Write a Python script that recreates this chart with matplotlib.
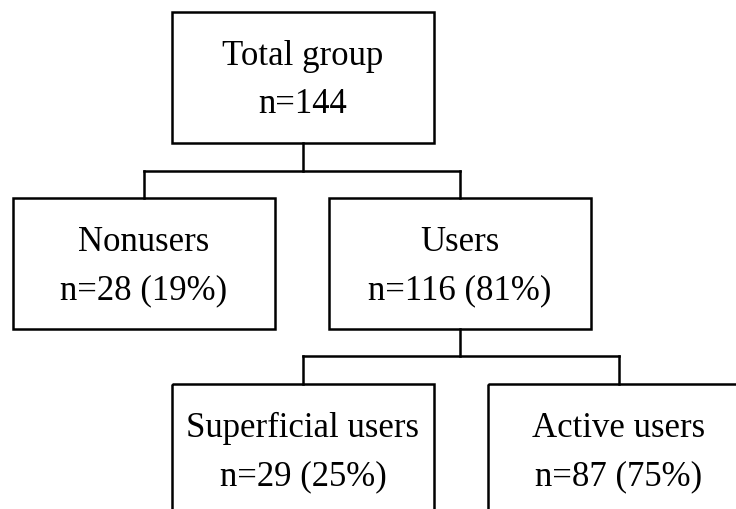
import matplotlib.pyplot as plt
from matplotlib.patches import Rectangle

# node texts
names = ['Total group', 'Nonusers', 'Users', 'Superficial users', 'Active users']
counts = [144, 28, 116, 29, 87]
percents = [None, 19, 81, 25, 75]
parents = [None, 0, 0, 2, 2]

# layout in pixels (image coords, y down)
box_x = [172, 13, 329, 172, 488]
box_y = [13, 199, 199, 385, 385]
box_w = 262
box_h = 131
bus_y = {0: 172, 2: 357}

fig = plt.figure(figsize=(7.36, 5.10), dpi=100)
ax = fig.add_axes([0, 0, 1, 1])
ax.set_xlim(0, 736)
ax.set_ylim(510, 0)
ax.axis('off')

lw = 1.8
for i in range(len(names)):
    ax.add_patch(Rectangle((box_x[i], box_y[i]), box_w, box_h, fill=False,
                           edgecolor='black', linewidth=lw, clip_on=True))
    cx = box_x[i] + box_w / 2
    if percents[i] is None:
        line2 = 'n=%d' % counts[i]
    else:
        line2 = 'n=%d (%d%%)' % (counts[i], percents[i])
    ax.text(cx, box_y[i] + 52, names[i], ha='center', va='baseline',
            fontsize=25, family='Liberation Serif')
    ax.text(cx, box_y[i] + 100, line2, ha='center', va='baseline',
            fontsize=25, family='Liberation Serif')

# connectors
for p, by in bus_y.items():
    kids = [i for i in range(len(names)) if parents[i] == p]
    pcx = box_x[p] + box_w / 2
    ax.plot([pcx, pcx], [box_y[p] + box_h, by], color='black', lw=lw, solid_capstyle='projecting')
    kx = [box_x[k] + box_w / 2 for k in kids]
    ax.plot([min(kx), max(kx)], [by, by], color='black', lw=lw, solid_capstyle='projecting')
    for k, x in zip(kids, kx):
        ax.plot([x, x], [by, box_y[k]], color='black', lw=lw, solid_capstyle='projecting')

fig.savefig('out.png', dpi=100)
